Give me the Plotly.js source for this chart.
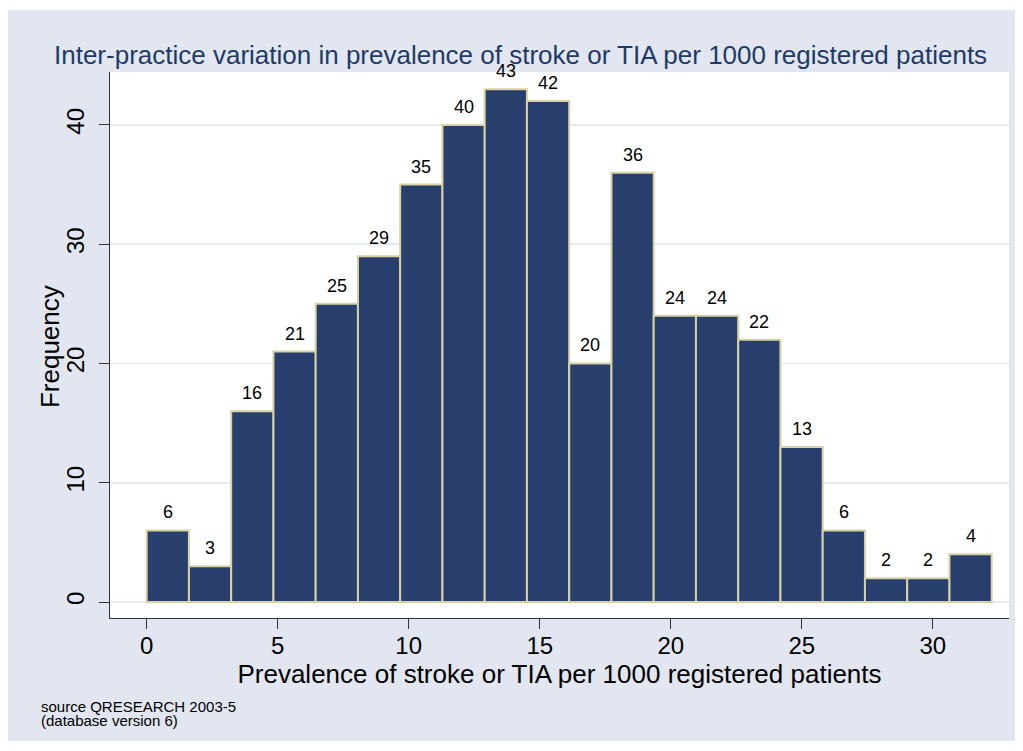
<!DOCTYPE html>
<html>
<head>
<meta charset="utf-8">
<script src="https://cdn.plot.ly/plotly-3.0.1.min.js"></script>
<style>
  html, body { margin: 0; padding: 0; background: #ffffff; }
  #chart { position: absolute; left: 8px; top: 10px; width: 1007px; height: 731px; }
</style>
</head>
<body>
<div id="chart"></div>
<script>
// ---- data ----
const binStart = 0;
const binWidth = 1.6125;
const counts = [6, 3, 16, 21, 25, 29, 35, 40, 43, 42, 20, 36, 24, 24, 22, 13, 6, 2, 2, 4];
const xTickVals = [0, 5, 10, 15, 20, 25, 30];
const yTickVals = [0, 10, 20, 30, 40];
const titleText = 'Inter-practice variation in prevalence of stroke or TIA per 1000 registered patients';
const xTitle = 'Prevalence of stroke or TIA per 1000 registered patients';
const yTitle = 'Frequency';
const noteLines = ['source QRESEARCH 2003-5', '(database version 6)'];

// ---- build ----
const centers = counts.map((c, i) => binStart + (i + 0.5) * binWidth);
const font = 'Liberation Sans, Arial, sans-serif';

const trace = {
  type: 'bar',
  x: centers,
  y: counts,
  width: counts.map(() => binWidth),
  marker: { color: '#283F6D', line: { color: '#D8D2A2', width: 2 } },
  hoverinfo: 'x+y'
};

const annotations = counts.map((c, i) => ({
  x: centers[i], y: c, xref: 'x', yref: 'y',
  text: String(c), showarrow: false,
  xanchor: 'center', yanchor: 'bottom', yshift: 6,
  font: { family: font, size: 18, color: '#000000' }
}));

// y-axis title placed as rotated annotation
annotations.push({
  x: -0.0667, y: 0.4963, xref: 'paper', yref: 'paper',
  text: yTitle, showarrow: false, textangle: -90,
  xanchor: 'center', yanchor: 'middle',
  font: { family: font, size: 26, color: '#000000' }
});

const noteY = [-0.1612, -0.1886];
noteLines.forEach((t, i) => annotations.push({
  x: -0.0779, y: noteY[i], xref: 'paper', yref: 'paper',
  text: t, showarrow: false, xanchor: 'left', yanchor: 'middle',
  borderpad: 0,
  font: { family: font, size: 15, color: '#000000' }
}));

const layout = {
  width: 1007, height: 731,
  paper_bgcolor: '#E1E6F0',
  plot_bgcolor: '#FFFFFF',
  margin: { l: 102, r: 6, t: 62, b: 123 },
  showlegend: false,
  bargap: 0,
  font: { family: font, color: '#000000' },
  title: {
    text: titleText,
    font: { family: font, size: 26, color: '#1F3A68' },
    x: 0.509, xanchor: 'center', y: 0.9384, yanchor: 'middle'
  },
  xaxis: {
    range: [-1.40, 32.91],
    tickvals: xTickVals,
    ticktext: xTickVals.map(String),
    ticks: 'outside', ticklen: 10, tickwidth: 1, tickcolor: '#333333',
    ticklabelstandoff: -4,
    showline: true, linecolor: '#333333', linewidth: 1,
    showgrid: false, zeroline: false,
    tickfont: { family: font, size: 24, color: '#000000' },
    title: { text: xTitle, font: { family: font, size: 26, color: '#000000' }, standoff: 0 }
  },
  yaxis: {
    range: [-1.34, 44.44],
    tickvals: yTickVals,
    ticktext: yTickVals.map(String),
    tickangle: -90,
    ticks: 'outside', ticklen: 10, tickwidth: 1, tickcolor: '#333333',
    ticklabelstandoff: 5,
    showline: true, linecolor: '#333333', linewidth: 1,
    showgrid: true, gridcolor: '#E4EAF1', gridwidth: 1.5,
    zeroline: false,
    tickfont: { family: font, size: 24, color: '#000000' }
  },
  annotations: annotations
};

Plotly.newPlot('chart', [trace], layout, { displayModeBar: false, staticPlot: true });
</script>
</body>
</html>
